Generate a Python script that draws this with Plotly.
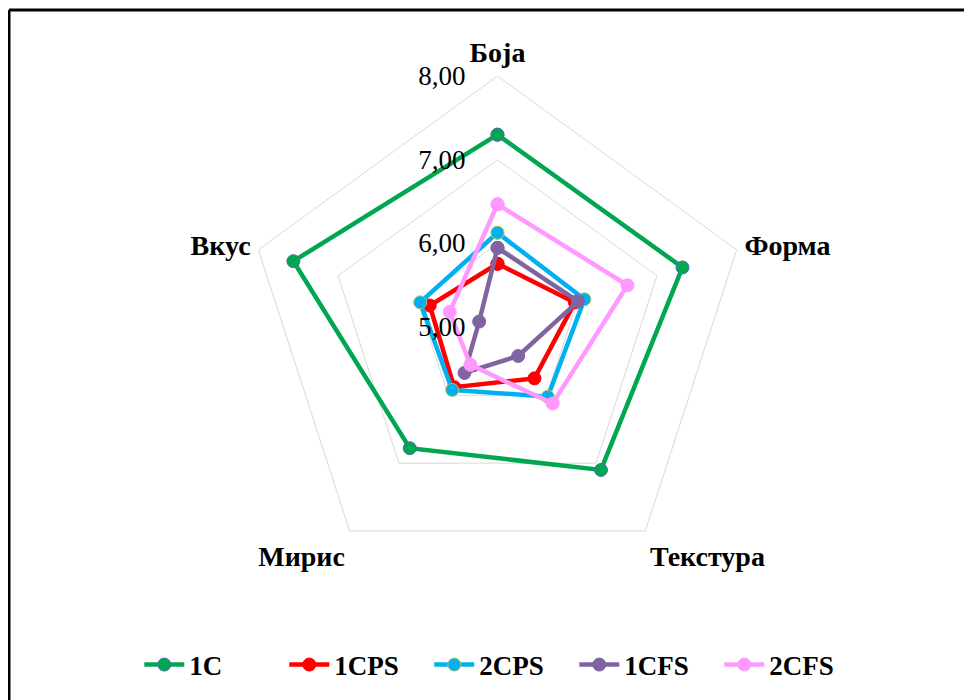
import plotly.graph_objects as go

categories = ["Боја", "Форма", "Текстура", "Мирис", "Вкус"]
series_names = ["1C", "1CPS", "2CPS", "1CFS", "2CFS"]
v_1C = [7.30, 7.32, 7.10, 6.78, 7.56]
v_1CPS = [5.76, 5.97, 5.75, 5.88, 5.85]
v_2CPS = [6.13, 6.09, 6.02, 5.92, 5.97]
v_1CFS = [5.95, 6.01, 5.42, 5.67, 5.23]
v_2CFS = [6.47, 6.63, 6.12, 5.55, 5.60]
tick_vals = [5, 6, 7, 8]

values = [v_1C, v_1CPS, v_2CPS, v_1CFS, v_2CFS]
colors = ["#00A650", "#FF0000", "#00B0F0", "#8064A2", "#FF99FF"]
outlines = ["#4F6FB0", "#FF0000", "#B5C26A", "#8064A2", "#FF99FF"]

FONT = "Liberation Serif"
W, H = 972, 700
OFF = 8  # page body margin
cx, cy, R = 497.5 - OFF, 327.5 - OFF, 251.5

fig = go.Figure()
for name, vals, col, oc in zip(series_names, values, colors, outlines):
    fig.add_trace(go.Scatterpolar(
        r=vals + vals[:1],
        theta=categories + categories[:1],
        mode="lines+markers",
        name=name,
        line=dict(color=col, width=4.5),
        marker=dict(color=col, size=13, line=dict(color=oc, width=1)),
    ))

fig.update_layout(
    width=W, height=H,
    margin=dict(l=0, r=0, t=0, b=0),
    paper_bgcolor="white",
    separators=",.",
    font=dict(family=FONT, color="black"),
    polar=dict(
        bgcolor="rgba(0,0,0,0)",
        gridshape="linear",
        domain=dict(x=[(cx - R) / W, (cx + R) / W],
                    y=[1 - (cy + R) / H, 1 - (cy - R) / H]),
        radialaxis=dict(
            range=[5, 8], tickvals=tick_vals, tickformat=".2f",
            angle=90, tickangle=90, side="counterclockwise",
            showline=False, gridcolor="#D9D9D9", gridwidth=1,
            ticks="outside", ticklen=22, tickcolor="rgba(0,0,0,0)",
            tickfont=dict(family=FONT, size=27, color="black"),
        ),
        angularaxis=dict(
            rotation=90, direction="clockwise",
            showgrid=False, showline=True, linecolor="#D9D9D9", linewidth=1,
            ticks="outside", ticklen=2, tickcolor="rgba(0,0,0,0)",
            tickfont=dict(family=FONT, size=28, color="black", weight="bold"),
        ),
    ),
    legend=dict(
        orientation="h", x=0.508, xanchor="center", y=1 - (665 - OFF) / H, yanchor="middle",
        font=dict(family=FONT, size=27, color="black", weight="bold"),
        itemwidth=40, entrywidth=90, entrywidthmode="pixels",
    ),
    shapes=[
        dict(type="line", xref="paper", yref="paper", x0=(9 - OFF) / W, x1=1,
             y0=1 - (10 - OFF) / H, y1=1 - (10 - OFF) / H,
             line=dict(color="black", width=3)),
        dict(type="line", xref="paper", yref="paper", x0=(9 - OFF) / W, x1=(9 - OFF) / W,
             y0=0, y1=1 - (10 - OFF) / H,
             line=dict(color="black", width=3)),
    ],
)

fig.write_html("out.html")
